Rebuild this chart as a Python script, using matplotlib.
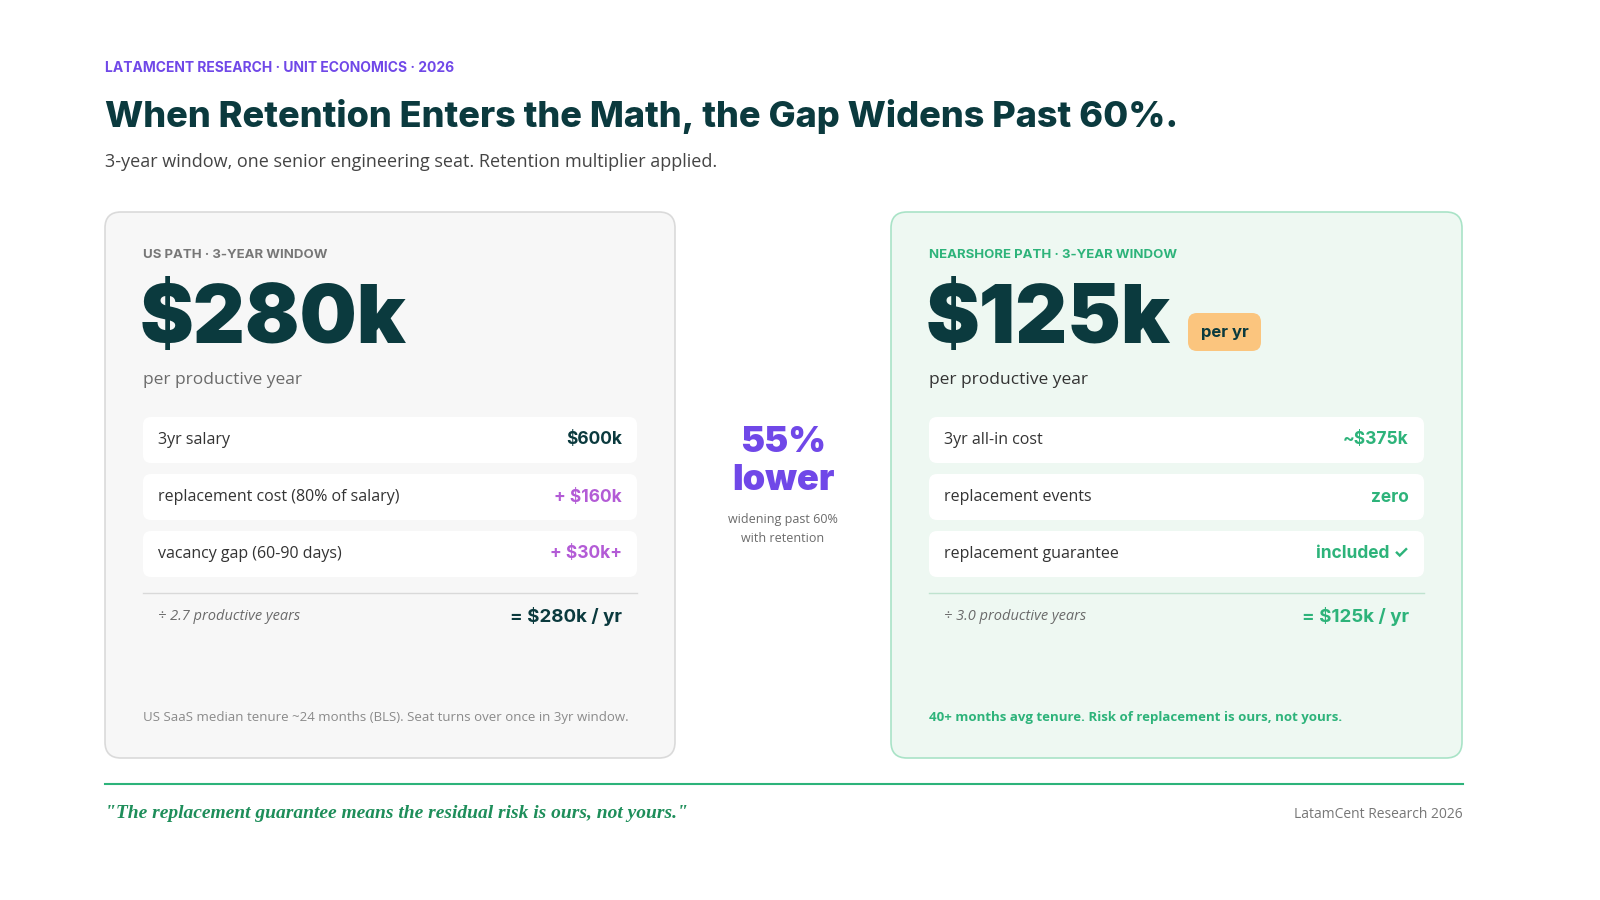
import matplotlib
matplotlib.use("Agg")
import matplotlib.pyplot as plt
from matplotlib.patches import FancyBboxPatch

# content
kicker = "LATAMCENT RESEARCH · UNIT ECONOMICS · 2026"
title = "When Retention Enters the Math, the Gap Widens Past 60%."
subtitle = "3-year window, one senior engineering seat. Retention multiplier applied."

us_head = "US PATH · 3-YEAR WINDOW"
us_big = "$280k"
us_rows = ["3yr salary", "replacement cost (80% of salary)", "vacancy gap (60-90 days)"]
us_vals = ["$600k", "+ $160k", "+ $30k+"]
us_years = "÷ 2.7 productive years"
us_total = "= $280k / yr"
us_note = "US SaaS median tenure ~24 months (BLS). Seat turns over once in 3yr window."

ns_head = "NEARSHORE PATH · 3-YEAR WINDOW"
ns_big = "$125k"
ns_rows = ["3yr all-in cost", "replacement events", "replacement guarantee"]
ns_vals = ["~$375k", "zero", "included ✓"]
ns_years = "÷ 3.0 productive years"
ns_total = "= $125k / yr"
ns_note = "40+ months avg tenure. Risk of replacement is ours, not yours."

mid_big = ["55%", "lower"]
mid_small = ["widening past 60%", "with retention"]
quote = '"The replacement guarantee means the residual risk is ours, not yours."'
source = "LatamCent Research 2026"

DARK = "#0B3A3E"
PURPLE = "#7048E8"
GREEN = "#2DB37A"
GRAY = "#6B6B6B"
HEAD = "Inter"
BODY = "Open Sans"

fig = plt.figure(figsize=(16, 9), dpi=100)
ax = fig.add_axes([0, 0, 1, 1])
ax.set_xlim(0, 1600)
ax.set_ylim(900, 0)
ax.axis("off")


def box(x0, y0, x1, y1, fc, ec, r=16, lw=1.2):
    ax.add_patch(FancyBboxPatch((x0, y0), x1 - x0, y1 - y0,
                                boxstyle=f"round,pad=0,rounding_size={r}",
                                fc=fc, ec=ec, lw=lw))


ax.text(105, 68, kicker, color=PURPLE, fontsize=10, fontweight="bold", family=HEAD, va="center")
ax.text(105, 116, title, color=DARK, fontsize=26, fontweight="heavy", family=HEAD, va="center")
ax.text(105, 162, subtitle, color="#444444", fontsize=13, family=BODY, va="center")


def card(x0, x1, fc, ec, head, head_c, big, rows, vals, val_cs, years, total, total_c, note, note_c, note_w):
    box(x0, 212, x1, 758, fc, ec)
    lx = x0 + 38
    rx = x1 - 38
    ax.text(lx, 255, head, color=head_c, fontsize=9.5, fontweight="bold", family=HEAD, va="center")
    ax.text(lx - 3, 322, big, color=DARK, fontsize=58, fontweight="black", family=HEAD, va="center")
    ax.text(lx, 380, "per productive year", color=GRAY if head_c != GREEN else "#333333",
            fontsize=12.5, family=BODY, va="center")
    for i, (r, v, c) in enumerate(zip(rows, vals, val_cs)):
        y = 440 + i * 57
        box(lx, y - 23, rx, y + 23, "white", "none", r=8, lw=0)
        ax.text(lx + 15, y, r, color="#333333", fontsize=11.5, family=BODY, va="center")
        ax.text(rx - 15, y, v, color=c, fontsize=12.5, fontweight="bold", family=HEAD, va="center", ha="right")
    ax.plot([lx, rx], [593, 593], color="#D9D9D9" if head_c != GREEN else "#BFE3CF", lw=1)
    ax.text(lx + 15, 617, years, color=GRAY, fontsize=10.5, style="italic", family=BODY, va="center")
    ax.text(rx - 15, 617, total, color=total_c, fontsize=13.5, fontweight="bold", family=HEAD, va="center", ha="right")
    ax.text(lx, 718, note, color=note_c, fontsize=9.5, fontweight=note_w, family=BODY, va="center")


card(105, 675, "#F7F7F7", "#DADADA", us_head, "#777777", us_big, us_rows, us_vals,
     [DARK, "#B35BD6", "#B35BD6"], us_years, us_total, DARK, us_note, "#8A8A8A", "normal")
card(891, 1462, "#EEF8F2", "#A9E3C7", ns_head, GREEN, ns_big, ns_rows, ns_vals,
     [GREEN, GREEN, GREEN], ns_years, ns_total, GREEN, ns_note, GREEN, "bold")

# per yr badge
box(1188, 313, 1261, 351, "#FBC57E", "none", r=9, lw=0)
ax.text(1224.5, 333, "per yr", color=DARK, fontsize=12, fontweight="bold", family=HEAD, ha="center", va="center")

# middle callout
for i, t in enumerate(mid_big):
    ax.text(783, 443 + i * 38, t, color=PURPLE, fontsize=26, fontweight="black", family=HEAD, ha="center", va="center")
for i, t in enumerate(mid_small):
    ax.text(783, 520 + i * 18, t, color=GRAY, fontsize=9, family=BODY, ha="center", va="center")

# footer
ax.plot([105, 1463], [784, 784], color=GREEN, lw=1.5)
ax.text(105, 814, quote, color="#1E8E5A", fontsize=14, style="italic", fontweight="bold",
        family="Liberation Serif", va="center")
ax.text(1463, 814, source, color="#777777", fontsize=10, family=BODY, ha="right", va="center")

fig.savefig("out.png", dpi=100, facecolor="white")
